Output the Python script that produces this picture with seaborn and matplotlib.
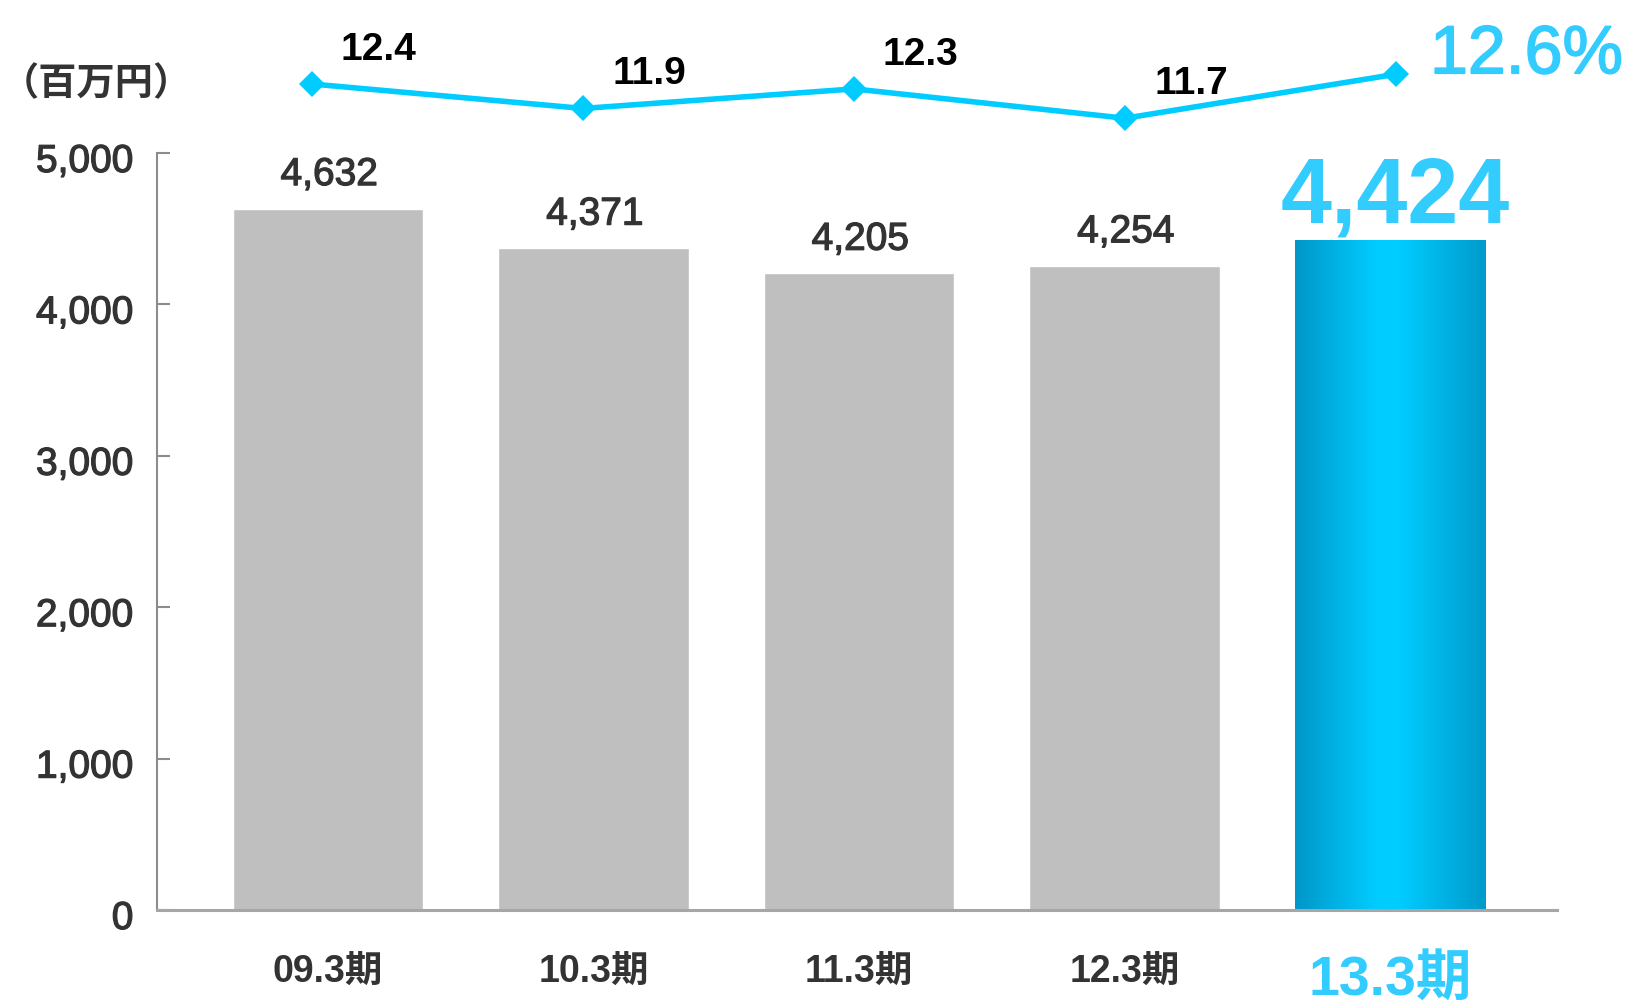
import numpy as np
import pandas as pd
import matplotlib
matplotlib.use("Agg")
import matplotlib.pyplot as plt
from matplotlib.colors import LinearSegmentedColormap
from matplotlib.transforms import ScaledTranslation
import matplotlib.patheffects as pe
import seaborn as sns

# ---- data ----
periods = ["09.3期", "10.3期", "11.3期", "12.3期", "13.3期"]
sales = [4632, 4371, 4205, 4254, 4424]          # 百万円
ratio = [12.4, 11.9, 12.3, 11.7, 12.6]          # %
y_ticks = [0, 1000, 2000, 3000, 4000, 5000]
unit_label = "（百万円）"

GRAY = "#BFBFBF"
CYAN = "#00CCFF"
CYAN_TEXT = "#33CCFF"
DARK = "#333333"

sns.set_style("white")
plt.rcParams["font.family"] = ["Liberation Sans", "Noto Sans CJK JP", "DejaVu Sans"]

W, H = 1629, 1005
fig = plt.figure(figsize=(W / 100, H / 100), dpi=100)

def fig_rect(left_px, top_px, right_px, bottom_px):
    return [left_px / W, 1 - bottom_px / H, (right_px - left_px) / W, (bottom_px - top_px) / H]

# slightly heavier strokes for the regular-weight numbers
heavy = [pe.withStroke(linewidth=0.9, foreground=DARK)]

# ---- bar chart ----
ax = fig.add_axes(fig_rect(157, 153, 1557, 910))
df = pd.DataFrame({"period": periods, "sales": sales})
sns.barplot(data=df, x="period", y="sales", hue="period",
            palette=[GRAY] * (len(periods) - 1) + [CYAN],
            width=0.716, legend=False, ax=ax, saturation=1)

# gradient fill on the latest bar
last = ax.patches[-1]
bx, by, bw, bh = last.get_x(), last.get_y(), last.get_width(), last.get_height()
cmap = LinearSegmentedColormap.from_list(
    "bar_grad", [(0.0, "#0096C8"), (0.42, "#00CCFF"), (0.55, "#00CCFF"), (1.0, "#009ACC")])
grad = np.linspace(0, 1, 256).reshape(1, -1)
im = ax.imshow(grad, cmap=cmap, extent=[bx, bx + bw, by, by + bh],
               aspect="auto", zorder=last.get_zorder(), interpolation="bilinear")
im.set_clip_path(last)
last.set_facecolor("none")
last.set_edgecolor("none")

ax.set_xlim(-0.644, 4.629)
ax.set_ylim(0, 5000)
ax.set_yticks(y_ticks)
ax.set_yticklabels([f"{v:,}" for v in y_ticks], fontsize=28, color=DARK)
ax.set_xlabel("")
ax.set_ylabel("")

for side in ("top", "right"):
    ax.spines[side].set_visible(False)
ax.spines["left"].set_color("#8C8C8C")
ax.spines["left"].set_linewidth(1.5)
ax.spines["bottom"].set_color("#A6A6A6")
ax.spines["bottom"].set_linewidth(2.2)
ax.tick_params(axis="y", direction="in", length=9.4, width=1.5,
               color="#8C8C8C", pad=17, left=True)
ax.tick_params(axis="x", length=0, pad=32)

shift_down = ScaledTranslation(0, -5 / 100, fig.dpi_scale_trans)
for lab in ax.get_yticklabels():
    lab.set_path_effects(heavy)
    lab.set_transform(lab.get_transform() + shift_down)

for i, lab in enumerate(ax.get_xticklabels()):
    lab.set_fontweight("bold")
    lab.set_color(DARK)
    lab.set_fontsize(27)
    if i == len(periods) - 1:
        lab.set_color(CYAN_TEXT)
        lab.set_fontsize(40)

# value labels on bars
for i, v in enumerate(sales):
    if i == len(sales) - 1:
        ax.annotate(f"{v:,}", (i, v), xytext=(4, 13), textcoords="offset points",
                    ha="center", va="baseline", fontsize=66, fontweight="bold",
                    color=CYAN_TEXT)
    else:
        ax.annotate(f"{v:,}", (i, v), xytext=(1, 17), textcoords="offset points",
                    ha="center", va="baseline", fontsize=28, color=DARK,
                    path_effects=heavy)

# ---- ratio line ----
lax = fig.add_axes(fig_rect(157, 40, 1557, 140))
lax.set_axis_off()
idx = np.arange(len(ratio))
sns.lineplot(x=idx, y=ratio, ax=lax, color=CYAN, linewidth=4,
             marker="D", markersize=13, markeredgewidth=0, markerfacecolor=CYAN)
lax.set_xlim(-0.572, 4.594)
lax.set_ylim(11.255, 13.30)

for i, v in enumerate(ratio):
    if i == len(ratio) - 1:
        lax.annotate(f"{v}%", (i, v), xytext=(24.5, 0.7), textcoords="offset points",
                     ha="left", va="baseline", fontsize=49, color=CYAN_TEXT,
                     path_effects=[pe.withStroke(linewidth=1.2, foreground=CYAN_TEXT)])
    else:
        lax.annotate(f"{v}", (i, v), xytext=(48, 17.3), textcoords="offset points",
                     ha="center", va="baseline", fontsize=28, fontweight="bold",
                     color="black")

# unit label
fig.text(1 / W, 1 - 84 / H, unit_label, ha="left", va="center",
         fontsize=27.5, fontweight="bold", color=DARK,
         family=["Noto Sans CJK JP"])

fig.savefig("out.png", dpi=100, facecolor="white")
